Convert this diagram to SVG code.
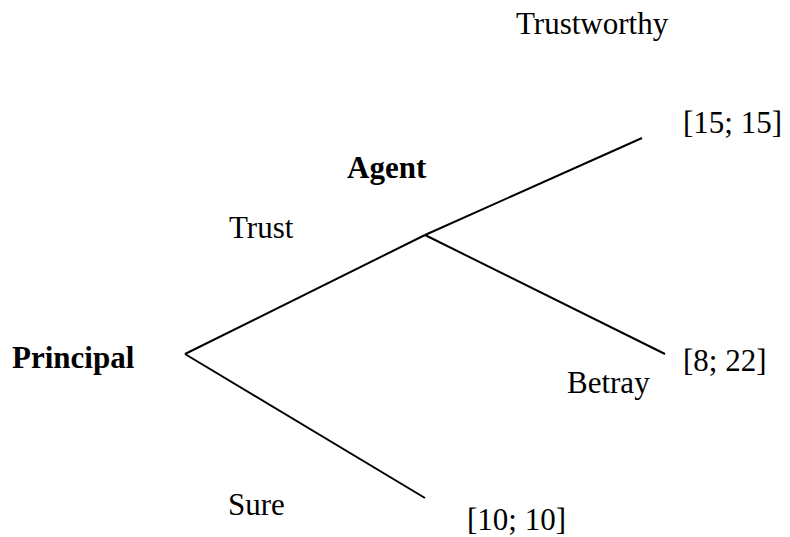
<svg xmlns="http://www.w3.org/2000/svg" width="790" height="537" viewBox="0 0 790 537">
<style>
.t{font-family:"Liberation Serif","Times New Roman",serif;font-size:31px;fill:#000}
.b{font-weight:bold}
.e{stroke:#000;stroke-width:2;fill:none}
</style>
<rect width="790" height="537" fill="#fff"/>
<g id="connectors">
<line class="e" x1="185" y1="354" x2="425" y2="235"/>
<line class="e" x1="185" y1="354" x2="425" y2="498"/>
<line class="e" x1="425" y1="235" x2="642" y2="138"/>
<line class="e" x1="425" y1="235" x2="665" y2="354"/>
</g>
<g id="principal"><text class="t b" x="12" y="368">Principal</text></g>
<g id="agent"><text class="t b" x="347" y="178">Agent</text></g>
<g id="label-trust"><text class="t" x="229" y="238">Trust</text></g>
<g id="label-sure"><text class="t" x="228" y="515">Sure</text></g>
<g id="label-trustworthy"><text class="t" x="516" y="34">Trustworthy</text></g>
<g id="label-betray"><text class="t" x="567" y="393">Betray</text></g>
<g id="payoff-1"><text class="t" x="683" y="133">[15; 15]</text></g>
<g id="payoff-2"><text class="t" x="683" y="371">[8; 22]</text></g>
<g id="payoff-3"><text class="t" x="467" y="530">[10; 10]</text></g>
</svg>
